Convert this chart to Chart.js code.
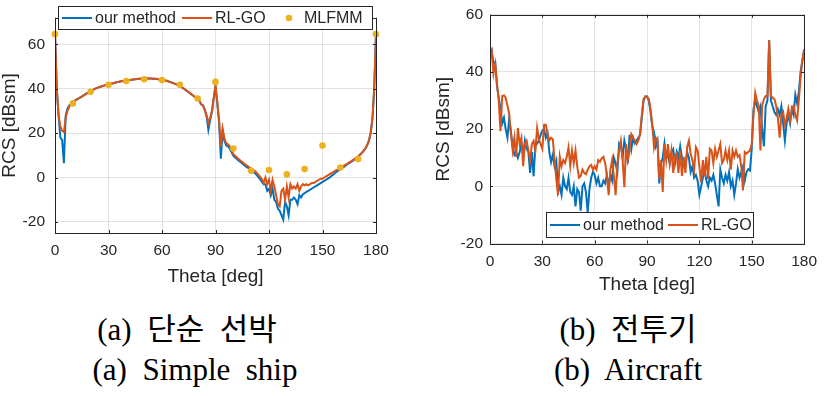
<!DOCTYPE html>
<html>
<head>
<meta charset="utf-8">
<script src="https://cdn.jsdelivr.net/npm/chart.js@4.4.1/dist/chart.umd.min.js"></script>
<style>
  body { margin: 0; background: #fff; width: 827px; height: 396px; position: relative; overflow: hidden; }
  .box { position: absolute; top: 0; height: 300px; }
  .cap { position: absolute; font-family: "Liberation Serif", "Times New Roman", serif; font-size: 31px; color: #000; white-space: pre; text-align: center; width: 340px; line-height: 40px; }
  .cap .ko { font-family: "Liberation Serif", "Noto Sans CJK KR", serif; }
</style>
</head>
<body>
<div class="box" style="left:0;width:400px"><canvas id="shipChart" width="400" height="300"></canvas></div>
<div class="box" style="left:420px;width:407px"><canvas id="aircraftChart" width="407" height="300"></canvas></div>
<div class="cap" style="left:17px;top:310px">(a)  <span class="ko">단순  선박</span></div>
<div class="cap" style="left:25px;top:350px">(a)  Simple  ship</div>
<div class="cap" style="left:458px;top:310px">(b)  <span class="ko">전투기</span></div>
<div class="cap" style="left:458px;top:350px">(b)  Aircraft</div>
<script>
// sampling angle, 1 deg steps
const theta = Array.from({ length: 181 }, (_, i) => i);
const xTicks = [0, 30, 60, 90, 120, 150, 180];
const yTicks = [-20, 0, 20, 40, 60];

// (a) simple ship
const shipOurs = [
  65, 40, 28, 18, 17, 6.5, 28, 31, 32.5, 33,
  34, 34.6, 35.1, 35.5, 36, 36.5, 37, 37.5, 38, 38.4,
  38.8, 39.3, 39.8, 40.2, 40.5, 40.8, 41, 41.3, 41.6, 41.8,
  42, 42.2, 42.4, 42.6, 42.8, 43, 43.2, 43.4, 43.5, 43.7,
  43.8, 43.9, 44, 44.1, 44.2, 44.3, 44.4, 44.5, 44.5, 44.6,
  44.6, 44.6, 44.6, 44.6, 44.6, 44.5, 44.5, 44.4, 44.3, 44.2,
  44.1, 43.9, 43.7, 43.5, 43.2, 42.9, 42.6, 42.3, 42, 41.6,
  41.2, 40.7, 40.2, 39.6, 39, 38.4, 37.8, 37.2, 36.6, 36,
  35.5, 34.5, 33, 32.5, 30.5, 27.5, 21.5, 26, 29.5, 35.5,
  41, 33.5, 25, 8.5, 21, 16.5, 14.5, 14, 13, 11.5,
  9.8, 9, 8.3, 7.6, 7, 6.3, 5.7, 5, 4.5, 3.8,
  3.2, 2.6, 2, 1.2, 0.3, -0.8, -2, -3, -3, -6,
  -5, -8, -5, -10, -11, -14, -15, -17, -19, -11,
  -13, -17, -10, -10, -9, -10, -12, -8, -9, -7.5,
  -7, -6.5, -6, -5.5, -5, -4.5, -4, -3.5, -3, -2.5,
  -2, -1.5, -1, -0.5, 0, 0.7, 1.3, 2, 2.6, 3.2,
  3.8, 4.3, 4.8, 5.4, 6, 6.5, 7, 7.6, 8.2, 8.8,
  9.4, 10.3, 11, 12, 13, 14.5, 16.5, 20, 26.5, 40,
  65
];
const shipRLGO = [
  65, 40, 28, 23, 21, 20.5, 27, 30, 32, 33,
  34, 34.6, 35.1, 35.5, 36, 36.5, 37, 37.5, 38, 38.4,
  38.8, 39.3, 39.8, 40.2, 40.5, 40.8, 41, 41.3, 41.6, 41.8,
  42, 42.2, 42.4, 42.6, 42.8, 43, 43.2, 43.4, 43.5, 43.7,
  43.8, 43.9, 44, 44.1, 44.2, 44.3, 44.4, 44.5, 44.5, 44.6,
  44.6, 44.6, 44.6, 44.6, 44.6, 44.5, 44.5, 44.4, 44.3, 44.2,
  44.1, 43.9, 43.7, 43.5, 43.2, 42.9, 42.6, 42.3, 42, 41.6,
  41.2, 40.7, 40.2, 39.6, 39, 38.4, 37.8, 37.2, 36.6, 36,
  35.5, 34.5, 33, 32.5, 30.5, 28, 24.5, 27, 30, 36,
  41.5, 34, 26, 14, 22, 17.5, 15.5, 15, 14, 12.5,
  10.5, 9.8, 9, 8.3, 7.6, 7, 6.3, 5.7, 5.2, 4.5,
  4, 3.5, 3, 2.2, 1.3, 0.3, -0.7, -2.5, 0, -3,
  -1, -6, -1, -4, -8, -12, -13, -6, -5, -10,
  -4, -9, -3, -5, -4, -5, -3, -6, -4, -3,
  -3.5, -3, -3.5, -3, -2.5, -2.5, -2, -1.5, -1, -0.5,
  -0.5, 0, 0.5, 1, 1.5, 2, 2.5, 3, 3.4, 3.9,
  4.4, 4.9, 5.3, 5.8, 6.3, 6.8, 7.3, 7.8, 8.4, 9,
  9.6, 10.3, 11, 12, 13, 14.5, 16.5, 20, 26.5, 40,
  65
];
const mlfmmTheta = [0, 10, 20, 30, 40, 50, 60, 70, 80, 90, 100, 110, 120, 130, 140, 150, 160, 170, 180];
const mlfmmRCS = [64.6, 33.4, 38.6, 41.8, 43.5, 44.3, 43.9, 41.8, 35.6, 43.1, 13.1, 3, 3.4, 1.4, 3.8, 14.4, 4.5, 8.3, 64.6];

// (b) aircraft
const jetOurs = [
  46, 47.6, 43, 43.5, 35, 31, 27, 22, 24, 20,
  17, 23.6, 19, 14, 11, 12, 10, 12, 15, 11,
  16, 13, 12, 4.7, 12, 3.5, 14, 15, 16, 18,
  19.5, 20, 17, 18.5, 12, 8.5, 11, 7, 9, -2,
  0, -3, 3, 0, -1, 3, -2, -3, 0, -7,
  -1, -2, -8.5, 0, 1, -2, -9, -1, 3, 5,
  4, 1, 3, 0, 0, 2, 1, 4, 0, 4,
  2, 10, 8, 5, 15, 14, 10, 16, 13, 8,
  18, 13, 17, 15, 16, 17, 18, 24, 30, 31.4,
  31.4, 30, 26, 21, 19, 14, 16, 1, 8, 10,
  15, 10, 11, 8, 12, 13, 8, 12, 10, 14,
  10, 8, 7, 12, 10, 5, 7, 3, 4, 2,
  -3, 0, 3, 5.8, 2, 0, 3, 2, 4, 1,
  -3, -7, 5.8, 3, 1, 4, 2, 5, 0, 2,
  -3, 1, 6, 3, 5, 7, 2, 5, 6, 5.5,
  13, 27, 30, 28, 26, 28, 20, 14, 28, 30,
  51, 30, 28, 26, 25, 27, 25, 28, 22, 16,
  22, 25, 22, 27, 25, 32, 29, 33, 40, 44,
  47
];
const jetRLGO = [
  45, 47, 39.4, 42.8, 36, 30, 19.3, 31.6, 31.8, 31,
  28.2, 25.4, 18.2, 12.5, 17, 10.3, 20.4, 14.8, 17, 7,
  14.8, 15.9, 12.5, 9.2, 14.8, 15.9, 12.5, 20.4, 16.5, 14.8,
  13.1, 21.5, 21.5, 18.2, 16, 17, 16.5, 9.2, 2.5, -3.1,
  10.3, 7, 9.2, 8.1, 10.3, 13.7, 7, 12.5, 8.1, 12.5,
  7, 3, 3.6, 5.8, 4.7, 4.2, 5.8, 7, 7.5, 5.8,
  7, 5.8, 9.2, 8.6, 9.8, 10.3, 8.1, 3.6, -3.1, 5.8,
  9.2, 3.6, -3.1, 8.1, 12.5, 15.9, 9.2, -0.3, 14.8, 9.2,
  12.5, 18.2, 17, 16, 14.8, 16, 18.2, 24.9, 30.5, 31.4,
  31.4, 30.5, 27.1, 21.5, 13.7, 17, 16, 2.5, 9.2, -2,
  14.8, 9.2, 14.8, 8.1, 12.5, 4.7, 10.3, 11.4, 4.7, 12.5,
  3.6, 10.3, 4.7, 13.7, 16, 11.4, 9.2, 5.8, 13.7, 12.5,
  7, 1.4, 9.2, 3.6, 10.3, 2.5, 13.1, 12.5, 8.1, 13.1,
  10.3, 12.5, 14.8, 8.1, 9.2, 12.5, 9.2, 12.5, 5.8, 12.5,
  10.3, 12.5, 10.3, 10.9, 7, -1.4, 12, 11.4, 12, 12.5,
  14.8, 24.9, 32.7, 30, 28.2, 12.5, 28.2, 30.5, 31.6, 31.6,
  51.2, 31.6, 31, 30.5, 28.2, 23.8, 17, 24.9, 26, 21.5,
  23.8, 27.1, 23.2, 27.1, 28.2, 24.9, 23, 30, 38, 44,
  48
];

const BLUE = "#0072BD", ORANGE = "#D95319", YELLOW = "#EDB120";
const INK = "#262626";
const SANS = "'Liberation Sans', Arial, sans-serif";

function pts(xs, ys) { return xs.map((x, i) => ({ x: x, y: ys[i] })); }

// axes frame, inward tick marks and a boxed legend, as the original figure has
const framePlugin = {
  id: "frame",
  afterDraw(chart, args, opts) {
    const { ctx, chartArea: a, scales } = chart;
    ctx.save();
    ctx.strokeStyle = INK;
    ctx.lineWidth = 1;
    ctx.beginPath();
    scales.x.ticks.forEach(t => {
      const px = Math.round(scales.x.getPixelForValue(t.value)) + 0.5;
      ctx.moveTo(px, a.bottom); ctx.lineTo(px, a.bottom - 3);
      ctx.moveTo(px, a.top); ctx.lineTo(px, a.top + 3);
    });
    scales.y.ticks.forEach(t => {
      const py = Math.round(scales.y.getPixelForValue(t.value)) + 0.5;
      ctx.moveTo(a.left, py); ctx.lineTo(a.left + 3, py);
      ctx.moveTo(a.right, py); ctx.lineTo(a.right - 3, py);
    });
    ctx.stroke();
    ctx.strokeRect(Math.round(a.left) + 0.5, Math.round(a.top) + 0.5,
      Math.round(a.right - a.left), Math.round(a.bottom - a.top));

    // legend
    const L = opts.legend;
    ctx.fillStyle = "#fff";
    ctx.fillRect(L.x, L.y, L.w, L.h);
    ctx.strokeRect(L.x + 0.5, L.y + 0.5, L.w, L.h);
    const cy = L.y + L.h / 2 + 0.5;
    ctx.font = "16px " + SANS;
    ctx.textBaseline = "middle";
    chart.data.datasets.forEach((ds, i) => {
      const x0 = L.items[i];
      let tx = x0 + 33;
      if (ds.showLine === false) {
        ctx.fillStyle = ds.backgroundColor;
        ctx.beginPath(); ctx.arc(x0, cy, 3.3, 0, Math.PI * 2); ctx.fill();
        tx = x0 + 15;
      } else {
        ctx.strokeStyle = ds.borderColor; ctx.lineWidth = 2;
        ctx.beginPath(); ctx.moveTo(x0, cy); ctx.lineTo(x0 + 30, cy); ctx.stroke();
      }
      ctx.fillStyle = INK;
      ctx.fillText(ds.label, tx, cy + 1);
    });
    ctx.restore();
  }
};

function makeChart(id, datasets, cfg) {
  return new Chart(document.getElementById(id), {
    type: "line",
    data: { datasets: datasets },
    plugins: [framePlugin],
    options: {
      responsive: false,
      animation: false,
      layout: { padding: cfg.pad },
      plugins: { legend: { display: false }, tooltip: { enabled: false }, frame: { legend: cfg.legend } },
      elements: { point: { radius: 0 }, line: { borderWidth: 2, tension: 0 } },
      scales: {
        x: {
          type: "linear", min: 0, max: 180,
          afterBuildTicks: s => { s.ticks = xTicks.map(v => ({ value: v })); },
          afterFit: s => { s.height = cfg.xH; },
          grid: { color: "rgba(38,38,38,0.13)", drawTicks: false },
          border: { display: false },
          ticks: { color: INK, padding: cfg.xPad, font: { family: SANS, size: 15.5, lineHeight: 1 } },
          title: { display: true, text: "Theta [deg]", color: INK, padding: { bottom: cfg.xTitle }, font: { family: SANS, size: 19, lineHeight: 1 } }
        },
        y: {
          min: cfg.yMin, max: cfg.yMax,
          afterBuildTicks: s => { s.ticks = yTicks.map(v => ({ value: v })); },
          afterFit: s => { s.width = cfg.yW; },
          grid: { color: "rgba(38,38,38,0.13)", drawTicks: false },
          border: { display: false },
          ticks: { color: INK, padding: cfg.yPad, font: { family: SANS, size: 15.5, lineHeight: 1 } },
          title: { display: true, text: "RCS [dBsm]", color: INK, padding: { top: cfg.yTitle }, font: { family: SANS, size: 19, lineHeight: 1 } }
        }
      }
    }
  });
}

makeChart("shipChart", [
  { label: "our method", data: pts(theta, shipOurs), borderColor: BLUE, order: 3 },
  { label: "RL-GO", data: pts(theta, shipRLGO), borderColor: ORANGE, order: 2 },
  { label: "MLFMM", data: pts(mlfmmTheta, mlfmmRCS), showLine: false, backgroundColor: YELLOW, borderColor: YELLOW,
    pointRadius: 3.3, pointBorderWidth: 0, clip: false, order: 1 }
], {
  pad: { top: 5, right: 24, left: 0, bottom: 0 }, xH: 67, yW: 55,
  xPad: 10, yPad: 10, xTitle: 14, yTitle: 0,
  yMin: -25, yMax: 72,
  legend: { x: 58, y: 6, w: 314, h: 23, items: [62, 182, 289] }
});

makeChart("aircraftChart", [
  { label: "our method", data: pts(theta, jetOurs), borderColor: BLUE, order: 2 },
  { label: "RL-GO", data: pts(theta, jetRLGO), borderColor: ORANGE, order: 1 }
], {
  pad: { top: 5.5, right: 13, left: 0, bottom: 0 }, xH: 56.5, yW: 70,
  xPad: 10, yPad: 7, xTitle: 5.5, yTitle: 14,
  yMin: -20, yMax: 60,
  legend: { x: 126, y: 212, w: 207, h: 25, items: [130, 248] }
});
</script>
</body>
</html>
